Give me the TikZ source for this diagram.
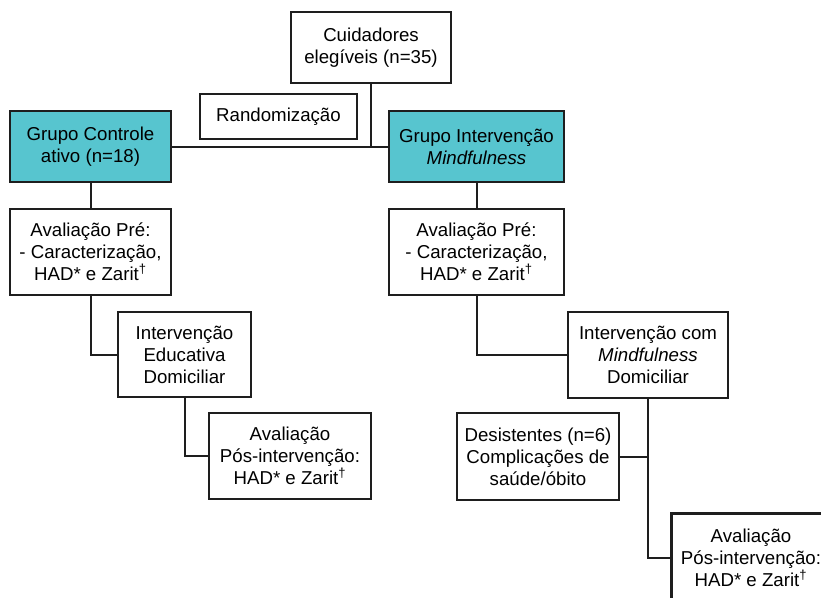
\documentclass[tikz,border=0pt]{standalone}
\usepackage{fontspec}
\setmainfont{Liberation Sans}
\definecolor{grupo}{RGB}{87,197,207}
\definecolor{linha}{RGB}{30,30,30}
\tikzset{
  caixa/.style={draw=linha,line width=1.9pt,fill=white,align=center,
    inner sep=0pt,font=\fontsize{14}{16.5}\selectfont},
  grupobox/.style={caixa,fill=grupo},
  liga/.style={draw=linha,line width=1.5pt}
}
\begin{document}
\begin{tikzpicture}[x=0.75pt,y=-0.75pt]
                \useasboundingbox (0,0) rectangle (821,597);
                \clip (0,0) rectangle (821,597);

                \node[caixa,minimum width=120pt,minimum height=53.25pt] (eleg) at(371,47.5) {Cuidadores\\eleg\'iveis (n=35)};
                \node[caixa,minimum width=117.75pt,minimum height=33.75pt] (rand) at(278.5,116.5) {Randomiza\c{c}\~ao};

                \node[grupobox,minimum width=120.75pt,minimum height=53.25pt] (ctrl) at(90.5,146.5) {Grupo Controle\\ativo (n=18)};
                \node[grupobox,minimum width=131.25pt,minimum height=53.25pt] (intv) at(476.5,146.5) {Grupo Interven\c{c}\~ao\\\textit{Mindfulness}};

                \node[caixa,minimum width=120.75pt,minimum height=64.5pt] (preC) at(90.5,252) {Avalia\c{c}\~ao Pr\'e:\\- Caracteriza\c{c}\~ao,\\HAD* e Zarit\textsuperscript{†}};
                \node[caixa,minimum width=131.25pt,minimum height=64.5pt] (preI) at(476.5,252) {Avalia\c{c}\~ao Pr\'e:\\- Caracteriza\c{c}\~ao,\\HAD* e Zarit\textsuperscript{†}};

                \node[caixa,minimum width=99.75pt,minimum height=63.75pt] (eduC) at(184.5,354.5) {Interven\c{c}\~ao\\Educativa\\Domiciliar};
                \node[caixa,minimum width=120pt,minimum height=64.5pt] (mindI) at(648,355) {Interven\c{c}\~ao com\\\textit{Mindfulness}\\Domiciliar};

                \node[caixa,minimum width=121.5pt,minimum height=64.5pt] (posC) at(290,456) {Avalia\c{c}\~ao\\P\'os-interven\c{c}\~ao:\\HAD* e Zarit\textsuperscript{†}};
                \node[caixa,minimum width=121.5pt,minimum height=65.25pt] (desI) at(538,456.5) {Desistentes (n=6)\\Complica\c{c}\~oes de\\sa\'ude/\'obito};

                % caixa final cortada pela borda
                \node[caixa,draw=none,fill=none,minimum width=117pt,minimum height=64.5pt] (posI) at(751,558) {Avalia\c{c}\~ao\\P\'os-interven\c{c}\~ao:\\HAD* e Zarit\textsuperscript{†}};
                \draw[draw=linha,line width=1.9pt] ([yshift=-20pt]posI.south west) |- ([xshift=90pt]posI.north east);

                \draw[liga] (ctrl.east) -- (intv.west);
                \draw[liga] (eleg.south) -- (eleg.south |- ctrl.east);
                \draw[liga] (ctrl.south) -- (preC.north);
                \draw[liga] (intv.south) -- (preI.north);
                \draw[liga] (preC.south) |- (eduC.west);
                \draw[liga] (eduC.south) |- (posC.west);
                \draw[liga] (preI.south) |- (mindI.west);
                \draw[liga] (mindI.south) |- (posI.west);
                \draw[liga] (desI.east) -- (desI.east -| mindI.south);
            \end{tikzpicture}
\end{document}
